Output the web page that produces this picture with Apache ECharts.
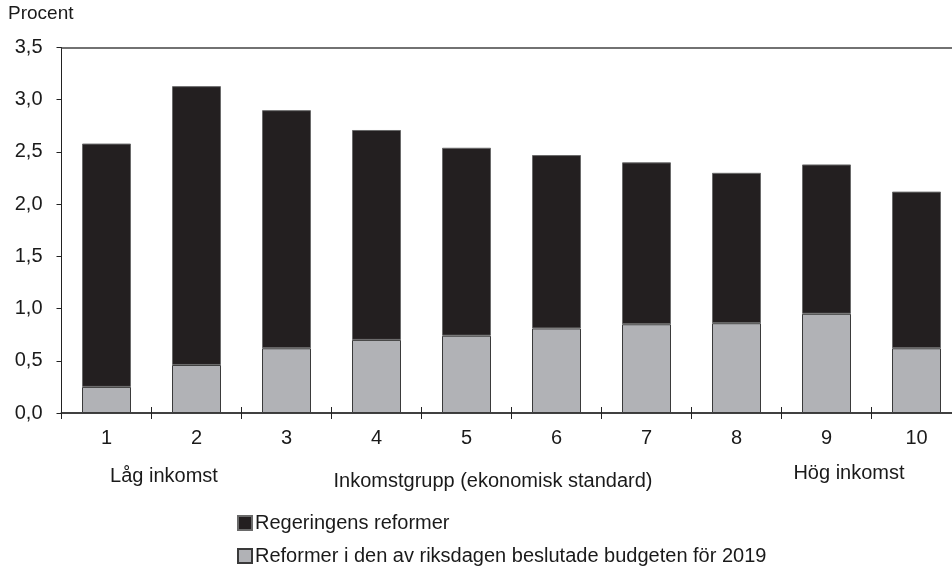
<!DOCTYPE html>
<html><head><meta charset="utf-8">
<script src="https://cdn.jsdelivr.net/npm/echarts@6/dist/echarts.min.js"></script>
<style>html,body{margin:0;padding:0;background:#fff;overflow:hidden;width:952px;height:573px}#c{width:964px;height:573px}</style>
</head><body><div id="c"></div>
<script>
const categories = ['1','2','3','4','5','6','7','8','9','10'];
const seriesNames = ['Regeringens reformer', 'Reformer i den av riksdagen beslutade budgeten för 2019'];
// gray (bottom) part
const budget2019 = [0.25, 0.46, 0.62, 0.70, 0.74, 0.81, 0.85, 0.86, 0.95, 0.62];
// black (top) part
const regeringens = [2.33, 2.67, 2.28, 2.01, 1.80, 1.66, 1.55, 1.44, 1.43, 1.50];
const yTicks = [0, 0.5, 1.0, 1.5, 2.0, 2.5, 3.0, 3.5];

const FONT = '"Liberation Sans", Arial, sans-serif';
const TXT = '#1a1a1a';
const legendBase = {
  orient: 'vertical', left: 232,
  itemWidth: 14, itemHeight: 14, itemGap: 10, icon: 'rect',
  textStyle: {fontFamily: FONT, fontSize: 20, color: TXT, padding: [0,0,0,-2]}
};
const chart = echarts.init(document.getElementById('c'));
chart.setOption({
  animation: false,
  textStyle: {fontFamily: FONT, color: TXT},
  grid: {left: 61.5, top: 47.5, width: 900, bottom: 160, containLabel: false},
  legend: [
    Object.assign({}, legendBase, {data: [seriesNames[0]], top: 508}),
    Object.assign({}, legendBase, {data: [seriesNames[1]], top: 541})
  ],
  xAxis: [
    {type: 'category', data: categories, position: 'bottom',
     axisLine: {lineStyle: {color: '#404040', width: 2}},
     axisTick: {show: true, inside: false, length: 6, lineStyle: {color: '#222', width: 1}},
     axisLabel: {fontFamily: FONT, fontSize: 20, color: TXT, margin: 15}},
    {type: 'category', data: categories, position: 'bottom',
     axisLine: {show: false},
     axisTick: {show: true, inside: true, length: 6, lineStyle: {color: '#222', width: 1}},
     axisLabel: {show: false}},
    {type: 'category', data: categories, position: 'top',
     axisLine: {show: true, lineStyle: {color: '#444', width: 1.5}},
     axisTick: {show: false}, axisLabel: {show: false}}
  ],
  yAxis: {
    type: 'value', min: yTicks[0], max: yTicks[yTicks.length-1], interval: 0.5,
    axisLine: {show: true, lineStyle: {color: '#222', width: 1}},
    axisTick: {show: true, inside: false, length: 5, lineStyle: {color: '#222'}},
    splitLine: {show: false},
    axisLabel: {fontFamily: FONT, fontSize: 20, color: TXT, margin: 19,
      formatter: v => v.toFixed(1).replace('.', ',')}
  },
  series: [
    {name: seriesNames[1], type: 'bar', stack: 'tot', data: budget2019, barWidth: 49,
     itemStyle: {color: '#b1b2b6', borderColor: '#3a3a3a', borderWidth: 1}},
    {name: seriesNames[0], type: 'bar', stack: 'tot', data: regeringens, barWidth: 49,
     itemStyle: {color: '#231f20', borderColor: '#6a6a6a', borderWidth: 1}}
  ],
  graphic: [
    {type: 'text', left: 8, top: 4, style: {text: 'Procent', font: '19px ' + FONT, fill: TXT}},
    {type: 'text', x: 164, y: 476, style: {text: 'Låg inkomst', font: '20px ' + FONT, fill: TXT, align: 'center', verticalAlign: 'middle'}},
    {type: 'text', x: 493, y: 481, style: {text: 'Inkomstgrupp (ekonomisk standard)', font: '20px ' + FONT, fill: TXT, align: 'center', verticalAlign: 'middle'}},
    {type: 'text', x: 849, y: 473, style: {text: 'Hög inkomst', font: '20px ' + FONT, fill: TXT, align: 'center', verticalAlign: 'middle'}}
  ]
});
</script></body></html>
